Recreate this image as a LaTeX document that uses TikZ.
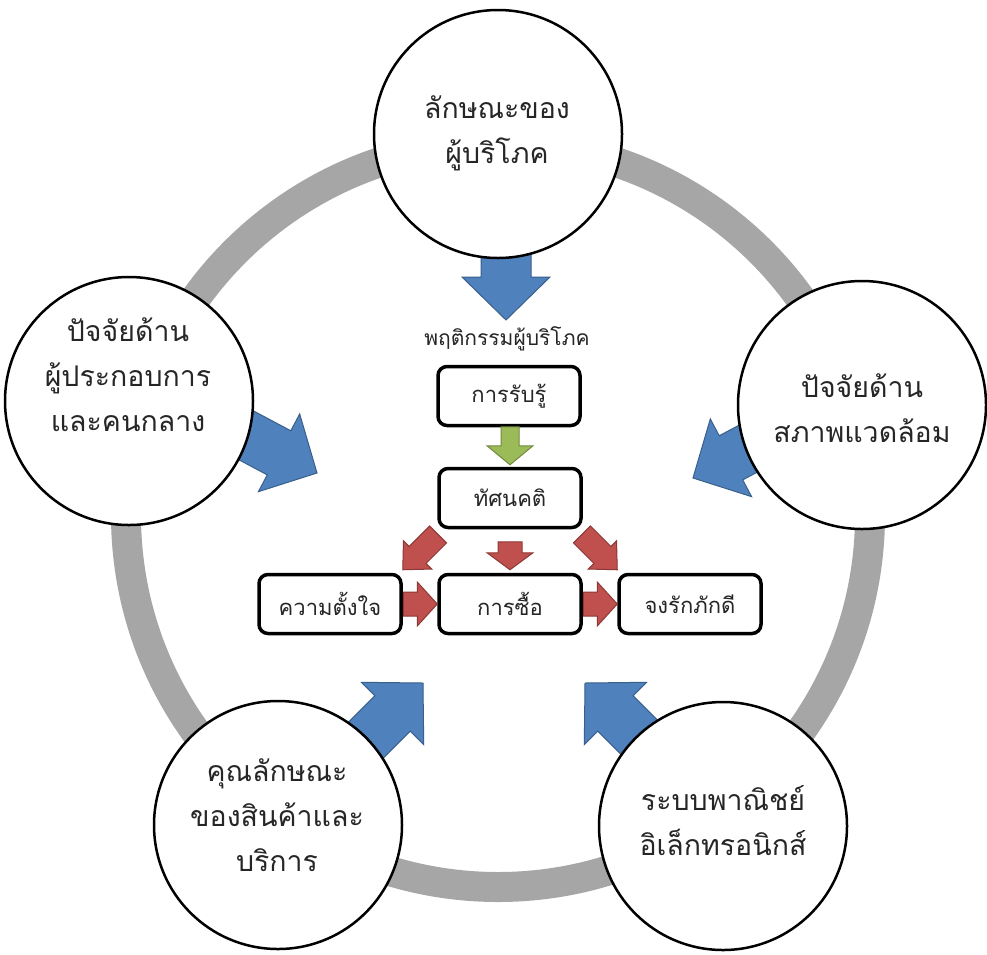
\documentclass[tikz,border=0pt]{standalone}
\usepackage{fontspec}
\newfontfamily\thaifont[Script=Thai]{Loma}
\usetikzlibrary{calc}
\definecolor{ringgray}{HTML}{A6A6A6}
\definecolor{arrowblue}{HTML}{4F81BD}
\definecolor{arrowblueedge}{HTML}{3A5F8B}
\definecolor{arrowred}{HTML}{C0504D}
\definecolor{arrowrededge}{HTML}{8C3836}
\definecolor{arrowgreen}{HTML}{9BBB59}
\definecolor{arrowgreenedge}{HTML}{71893F}
\tikzset{
  % block arrow with its tip at the origin, pointing along +x:
  % total length / half shaft width / half head width / head length
  pics/blockarrow/.style args={#1/#2/#3/#4}{
    code={\path[pic actions] (0,0) -- (-#4,#3) -- (-#4,#2) -- (-#1,#2)
      -- (-#1,-#2) -- (-#4,-#2) -- (-#4,-#3) -- cycle;}
  },
  ring/.style={draw=ringgray, line width=30pt},
  factor/.style={circle, draw=black, fill=white, line width=2.5pt,
    minimum size=248pt, inner sep=0pt},
  factortext/.style={align=center, text=black!85,
    font=\thaifont\fontsize{28.5}{45}\selectfont},
  stage/.style={draw=black, fill=white, line width=3.5pt, rounded corners=9pt,
    minimum width=142pt, minimum height=59pt, inner sep=0pt,
    text=black!85, font=\thaifont\fontsize{22}{26}\selectfont},
  heading/.style={text=black!85, font=\thaifont\fontsize{21}{24}\selectfont},
  bluearrow/.style={fill=arrowblue, draw=arrowblueedge, line width=1pt},
  redarrow/.style={fill=arrowred, draw=arrowrededge, line width=1pt},
  greenarrow/.style={fill=arrowgreen, draw=arrowgreenedge, line width=1pt},
}
\begin{document}
\begin{tikzpicture}[x=1pt,y=-1pt]
\useasboundingbox (0,0) rectangle (987,954);
\fill[white] (0,0) rectangle (987,954);

% outer ring linking the five factors
\coordinate (hub) at (498,515);
\draw[ring] (hub) circle[radius=372pt];

% tips of the blue arrows pointing inwards
\coordinate (tipConsumer) at (506,320);
\coordinate (tipOperator) at (317,473);
\coordinate (tipEnvironment) at (693,478);
\coordinate (tipProduct) at (423,683);
\coordinate (tipCommerce) at (585,683);

\pic[bluearrow, rotate=-90] at (tipConsumer) {blockarrow=95/25/44/43};
\pic[bluearrow, rotate=-28] at (tipOperator) {blockarrow=130/25/44/43};
\pic[bluearrow, rotate=-152] at (tipEnvironment) {blockarrow=130/25/44/43};
\pic[bluearrow, rotate=45] at (tipProduct) {blockarrow=115/25/44/43};
\pic[bluearrow, rotate=135] at (tipCommerce) {blockarrow=115/25/44/43};

% the five factors
\node[factor] (consumer) at (498,134) {};
\node[factor] (operator) at (129,401) {};
\node[factor] (environment) at (862,405) {};
\node[factor] (product) at (278,825) {};
\node[factor] (commerce) at (723,826) {};

\node[factortext] (consumerText) at (497,133) {ลักษณะของ\\ผู้บริโภค};
\node[factortext] (operatorText) at (128,375) {ปัจจัยด้าน\\ผู้ประกอบการ\\และคนกลาง};
\node[factortext] (environmentText) at (862,408) {ปัจจัยด้าน\\สภาพแวดล้อม};
\node[factortext] (productText) at (277,815) {คุณลักษณะ\\ของสินค้าและ\\บริการ};
\node[factortext] (commerceText) at (723,821) {ระบบพาณิชย์\\อิเล็กทรอนิกส์};

% consumer behaviour chain
\node[heading] (behaviour) at (507,339) {พฤติกรรมผู้บริโภค};
\node[stage] (perceive) at (509,396) {การรับรู้};
\node[stage] (attitude) at (510,498) {ทัศนคติ};
\node[stage] (intent) at (330,604) {ความตั้งใจ};
\node[stage] (purchase) at (510,604) {การซื้อ};
\node[stage] (loyal) at (690,604) {จงรักภักดี};

\pic[greenarrow, rotate=-90] at ($(attitude.north)+(0,-2)$) {blockarrow=38/9/23/19};
\pic[redarrow, rotate=-90] at ($(purchase.north)+(0,-3)$) {blockarrow=28/12/23/17};
\pic[redarrow, rotate=-135] at ($(intent.north east)+(0,-3)$) {blockarrow=50/12/20/21};
\pic[redarrow, rotate=-45] at ($(loyal.north west)+(0,-3)$) {blockarrow=50/12/20/21};
\pic[redarrow] at (purchase.west) {blockarrow=34/12/22/20};
\pic[redarrow] at (loyal.west) {blockarrow=34/12/22/20};
\end{tikzpicture}
\end{document}
